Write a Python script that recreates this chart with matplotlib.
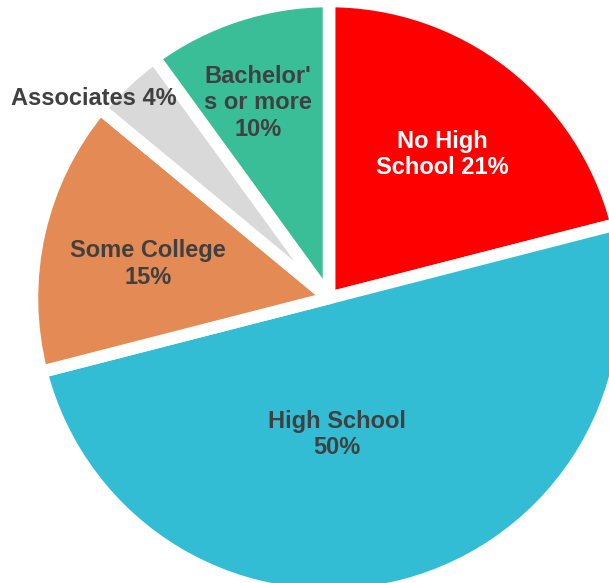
import matplotlib
matplotlib.use("Agg")
import matplotlib.pyplot as plt
import numpy as np

# education attainment shares (%)
categories = ["No High\nSchool", "High School", "Some College", "Associates", "Bachelor'\ns or more"]
shares     = [21, 50, 15, 4, 10]
label_text = ["No High\nSchool 21%", "High School\n50%", "Some College\n15%",
              "Associates 4%", "Bachelor'\ns or more\n10%"]

colors      = ["#FF0000", "#33BDD4", "#E48A54", "#D9D9D9", "#3ABE97"]
text_colors = ["white", "#404040", "#404040", "#404040", "#404040"]
# label placement: (angle shift from wedge middle in deg, radius fraction)
label_pos   = [(-0.5, 0.615), (-11, 0.46), (2, 0.62), (6.5, 1.04), (2, 0.70)]

W, H = 609, 583
cx, cy, R = 329, H - 298, 297

fig = plt.figure(figsize=(W / 100, H / 100), dpi=100)
ax = fig.add_axes([0, 0, 1, 1])
wedges, _ = ax.pie(shares, colors=colors, startangle=90, counterclock=False,
                   center=(cx, cy), radius=R, frame=False,
                   wedgeprops=dict(edgecolor="white", linewidth=9,
                                   joinstyle="round"))
ax.set_xlim(0, W)
ax.set_ylim(0, H)
ax.set_aspect("equal")
ax.axis("off")

for w, txt, tc, (dang, frac) in zip(wedges, label_text, text_colors, label_pos):
    mid = np.deg2rad((w.theta1 + w.theta2) / 2 + dang)
    x = cx + frac * R * np.cos(mid)
    y = cy + frac * R * np.sin(mid)
    ax.text(x, y, txt, ha="center", va="center", color=tc, fontsize=17,
            fontweight="bold", family="Liberation Sans", linespacing=1.2)

fig.savefig("out.png", dpi=100)
